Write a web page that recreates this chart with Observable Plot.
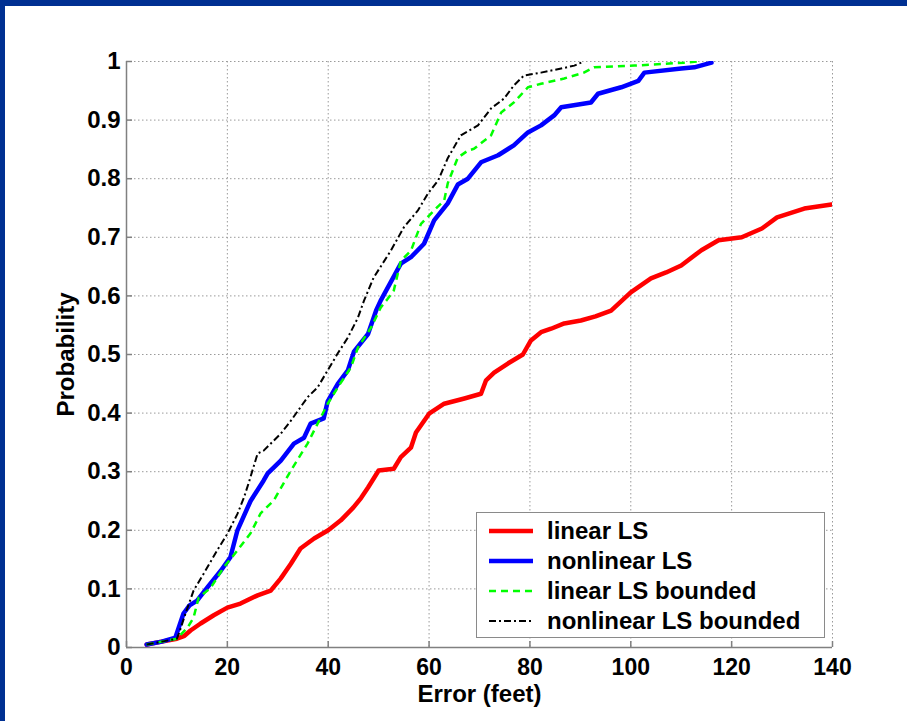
<!DOCTYPE html>
<html>
<head>
<meta charset="utf-8">
<script src="https://cdn.jsdelivr.net/npm/d3@7"></script>
<script src="https://cdn.jsdelivr.net/npm/@observablehq/plot@0.6"></script>
<style>
  html, body { margin: 0; padding: 0; background: #fff; }
  #wrap { position: relative; width: 907px; height: 721px; background: #fff; overflow: hidden;
          font-family: "Liberation Sans", Arial, sans-serif; font-weight: bold; }
  #wrap svg { position: absolute; left: 0; top: 0; }
  .bar-top { position: absolute; left: 0; top: 0; width: 907px; height: 6px; background: #003092; }
  .bar-left { position: absolute; left: 0; top: 0; width: 5px; height: 721px; background: #003092; }
  #legend { position: absolute; left: 476px; top: 512px; width: 349px; height: 126px; box-sizing: border-box;
            border: 1.5px solid #8a8a8a; background: #fff; padding-top: 3px; }
  .item { display: flex; align-items: center; height: 30px; padding-left: 12px; }
  .item svg { position: static !important; margin-right: 14px; }
  .item span { font-size: 24px; font-weight: bold; color: #000; line-height: 30px; }
</style>
</head>
<body>
<div id="wrap">
  <div id="chart"></div>
  <div id="legend"></div>
  <div class="bar-top"></div>
  <div class="bar-left"></div>
</div>
<script>
// ---- data ----
const seriesNames = ["linear LS", "nonlinear LS", "linear LS bounded", "nonlinear LS bounded"];
const seriesColors = ["#ff0000", "#0000ff", "#00ff00", "#000000"];

const xTicks = [0, 20, 40, 60, 80, 100, 120, 140];
const yTicks = [0, 0.1, 0.2, 0.3, 0.4, 0.5, 0.6, 0.7, 0.8, 0.9, 1];

const linearErr  = [4,7,10,11.5,12.7,14.7,17.3,20,22.6,26,28.6,30.6,32.6,34.5,37.2,40,42.5,45,46.5,47.9,50,53,54.4,56.4,57.4,60,63,67,70.3,71.3,72.9,75.7,78.6,80.2,82.2,84.2,86.8,90.1,93,96.1,100,104,107,110,114,117.4,122,126,129,134.4,139.8];
const linearProb = [.005,.01,.015,.02,.029,.041,.055,.068,.075,.089,.097,.118,.143,.169,.186,.20,.217,.239,.255,.273,.302,.305,.325,.341,.367,.399,.416,.425,.433,.456,.469,.485,.50,.524,.538,.544,.553,.558,.565,.575,.606,.63,.64,.652,.678,.695,.70,.715,.734,.749,.756];

const nonlinearErr  = [4,7,9.7,11.3,12.5,14,16,18.7,20.6,22,24.6,27.2,28,30.6,33.2,35.2,36.5,39.1,39.9,41.9,43.9,45.1,47.9,49.5,50.4,54.4,56.4,59,61,63.7,65.7,67.7,70.3,73.7,76.8,79.6,82.2,84.8,86.2,92.1,93.5,98.1,101.5,102.7,110,112.6,116];
const nonlinearProb = [.005,.01,.017,.058,.072,.08,.102,.131,.154,.2,.25,.285,.297,.319,.348,.358,.382,.391,.42,.45,.473,.505,.535,.575,.592,.655,.666,.689,.729,.758,.79,.80,.828,.84,.857,.879,.891,.908,.922,.93,.945,.956,.967,.981,.988,.99,.998];

const linearBErr  = [4,7,10,12.1,13.3,14.3,16.7,19.3,21.2,24.6,26.6,29.2,30,32.6,35.9,37.9,39.9,41.9,44.5,45.9,48.5,50.4,51.8,53,54.4,56.4,58.4,61,63,63.7,65.7,67.7,68.9,72.3,74.3,76.8,79.6,82.2,86.8,90.7,92.7,100.7,110.6,113.3];
const linearBProb = [.005,.01,.015,.034,.051,.085,.102,.137,.157,.195,.229,.251,.263,.302,.348,.382,.416,.444,.478,.512,.546,.58,.595,.609,.66,.677,.723,.746,.763,.792,.836,.848,.851,.874,.913,.93,.956,.962,.971,.981,.99,.993,.998,1.0];

const nonlinearBErr  = [4,7,10,10.4,11.7,13.3,15.3,18,20,22,23.3,24.2,26,27.2,30.6,32.6,35.9,37.9,39.9,41.9,43.9,45.9,47.1,49,52.4,55,57.8,59.8,61.8,63.7,66.3,69.7,72.3,74.9,76.8,78.8,82.2,86.2,88.8,90.7];
const nonlinearBProb = [.005,.01,.015,.024,.058,.097,.126,.166,.194,.228,.256,.28,.331,.336,.365,.387,.427,.444,.473,.502,.529,.563,.592,.631,.677,.717,.746,.775,.797,.835,.874,.891,.92,.937,.959,.976,.981,.988,.993,1.0];

// ---- build tables ----
function pairs(xs, ys) { return xs.map((x, i) => ({x, y: ys[i]})); }
const dataSets = [
  pairs(linearErr, linearProb),
  pairs(nonlinearErr, nonlinearProb),
  pairs(linearBErr, linearBProb),
  pairs(nonlinearBErr, nonlinearBProb)
];
const styles = [
  {strokeWidth: 4.5, dash: null},
  {strokeWidth: 4.5, dash: null},
  {strokeWidth: 2.5, dash: "7,5"},
  {strokeWidth: 2, dash: "7,3,2,3"}
];

const FONT = '"Liberation Sans", Arial, sans-serif';

const lineMarks = dataSets.map((d, i) => Plot.line(d, {
  x: "x", y: "y", stroke: seriesColors[i], strokeWidth: styles[i].strokeWidth,
  strokeDasharray: styles[i].dash, strokeLinejoin: "round", strokeLinecap: styles[i].dash ? "butt" : "round",
  clip: true
}));

const chart = Plot.plot({
  width: 907, height: 721,
  marginLeft: 126, marginRight: 75, marginTop: 61, marginBottom: 74,
  style: {fontFamily: FONT, background: "transparent", overflow: "visible"},
  x: {domain: [0, 140]},
  y: {domain: [0, 1]},
  marks: [
    Plot.gridX(xTicks, {stroke: "#9a9a9a", strokeOpacity: 1, strokeDasharray: "1.5,2.5", strokeWidth: 1}),
    Plot.gridY(yTicks, {stroke: "#9a9a9a", strokeOpacity: 1, strokeDasharray: "1.5,2.5", strokeWidth: 1}),
    Plot.ruleX([0], {stroke: "#808080", strokeWidth: 1.5}),
    Plot.ruleY([0], {stroke: "#808080", strokeWidth: 1.5}),
    Plot.axisX(xTicks, {anchor: "bottom", tickSize: -6, tickPadding: 17, stroke: "#808080", strokeWidth: 1.5,
      fontSize: 23, fontWeight: "bold", fill: "#000", label: null, tickFormat: d => String(d)}),
    Plot.axisY(yTicks, {anchor: "left", tickSize: -6, tickPadding: 12, stroke: "#808080", strokeWidth: 1.5,
      fontSize: 24, fontWeight: "bold", fill: "#000", label: null, tickFormat: d => String(+d.toFixed(1))}),
    ...lineMarks,
    Plot.text(["Error (feet)"], {frameAnchor: "bottom", dy: 54, textAnchor: "middle", fontSize: 24, fontWeight: "bold", fill: "#000"}),
    Plot.text(["Probability"], {frameAnchor: "left", dx: -60, rotate: -90, textAnchor: "middle", fontSize: 24, fontWeight: "bold", fill: "#000"})
  ]
});
document.getElementById("chart").appendChild(chart);

// ---- legend ----
const legend = document.getElementById("legend");
seriesNames.forEach((name, i) => {
  const item = document.createElement("div");
  item.className = "item";
  const ns = "http://www.w3.org/2000/svg";
  const s = document.createElementNS(ns, "svg");
  s.setAttribute("width", "44"); s.setAttribute("height", "10");
  const ln = document.createElementNS(ns, "line");
  ln.setAttribute("x1", "0"); ln.setAttribute("x2", "44");
  ln.setAttribute("y1", "5"); ln.setAttribute("y2", "5");
  ln.setAttribute("stroke", seriesColors[i]);
  ln.setAttribute("stroke-width", styles[i].strokeWidth);
  if (styles[i].dash) ln.setAttribute("stroke-dasharray", styles[i].dash);
  s.appendChild(ln);
  const t = document.createElement("span");
  t.textContent = name;
  item.appendChild(s); item.appendChild(t);
  legend.appendChild(item);
});
</script>
</body>
</html>
